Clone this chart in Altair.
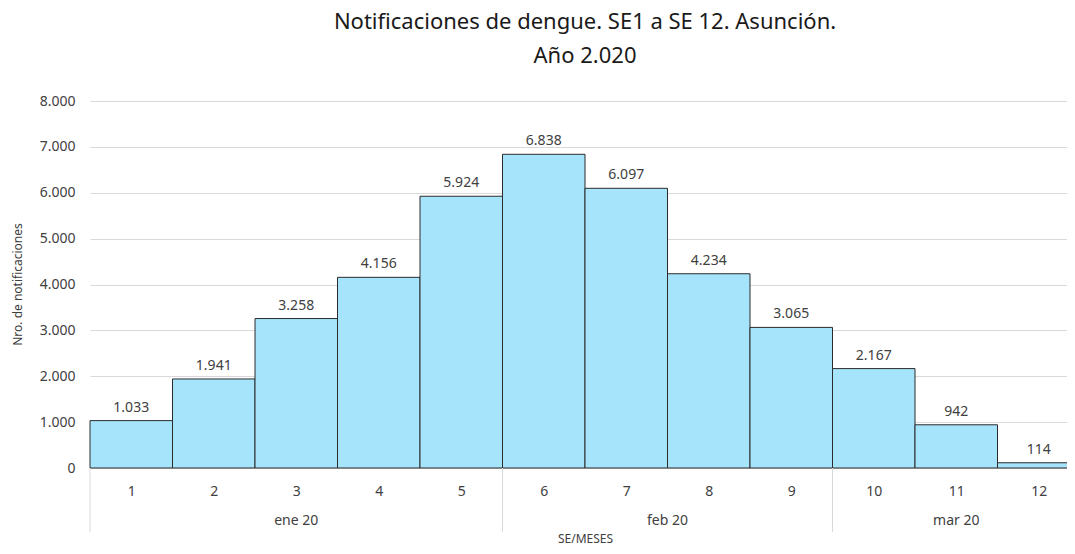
import altair as alt
import pandas as pd

weeks = [1, 2, 3, 4, 5, 6, 7, 8, 9, 10, 11, 12]
counts = [1033, 1941, 3258, 4156, 5924, 6838, 6097, 4234, 3065, 2167, 942, 114]
months = ["ene 20", "feb 20", "mar 20"]
month_first_week = [1, 6, 10]
month_last_week = [5, 9, 12]
y_ticks = [0, 1000, 2000, 3000, 4000, 5000, 6000, 7000, 8000]

FONT = "Noto Sans"

bars_df = pd.DataFrame({
    "week": weeks,
    "lo": [w - 0.5 for w in weeks],
    "hi": [w + 0.5 for w in weeks],
    "count": counts,
    "label": [f"{c:,}".replace(",", ".") for c in counts],
})

months_df = pd.DataFrame({
    "month": months,
    "mid": [(a + b) / 2 for a, b in zip(month_first_week, month_last_week)],
})

bounds = [a - 0.5 for a in month_first_week] + [month_last_week[-1] + 0.5]
bounds_df = pd.DataFrame({"b": bounds})

xscale = alt.Scale(domain=[0.5, 12.5], nice=False, zero=False, padding=0)
yscale = alt.Scale(domain=[0, 8000], nice=False, padding=0)

base = alt.Chart(bars_df)

bars = base.mark_bar(color="#A6E4FB", stroke="#2b2b2b", strokeWidth=1).encode(
    x=alt.X("lo:Q", scale=xscale,
            axis=alt.Axis(values=weeks, format="d", ticks=False, tickSize=0, domain=False,
                          grid=False, labelPadding=16, labelFontSize=14, labelColor="#404040",
                          labelFont=FONT, title="SE/MESES", titleFont=FONT, titleFontSize=12,
                          titleFontWeight="normal", titleColor="#404040",
                          titleY=74, titleBaseline="alphabetic")),
    x2="hi:Q",
    y=alt.Y("count:Q", scale=yscale,
            axis=alt.Axis(values=y_ticks, ticks=False, tickSize=0, domain=False,
                          labelExpr="replace(format(datum.value, ','), ',', '.')",
                          labelPadding=15, labelFontSize=14, labelColor="#404040", labelFont=FONT,
                          gridColor="#d9d9d9", gridWidth=1,
                          title="Nro. de notificaciones", titleFont=FONT, titleFontSize=12,
                          titleFontWeight="normal", titleColor="#404040",
                          titleX=-73, titleY=183, titleAngle=270, titleBaseline="middle")),
    y2=alt.datum(0),
)

labels = base.mark_text(font=FONT, fontSize=14, color="#404040", baseline="alphabetic", dy=-9).encode(
    x=alt.X("week:Q", scale=xscale),
    y=alt.Y("count:Q", scale=yscale),
    text="label:N",
)

month_text = alt.Chart(months_df).mark_text(font=FONT, fontSize=14, color="#404040",
                                             baseline="middle").encode(
    x=alt.X("mid:Q", scale=xscale),
    y=alt.value(420),
    text="month:N",
)

seps = alt.Chart(bounds_df).mark_rule(color="#d9d9d9", strokeWidth=1).encode(
    x=alt.X("b:Q", scale=xscale),
    y=alt.value(367),
    y2=alt.value(431),
)

chart = alt.layer(bars, labels, month_text, seps).properties(
    width=990,
    height=367,
    title=alt.TitleParams(
        text=["Notificaciones de dengue. SE1 a SE 12. Asunción.", "Año 2.020"],
        font=FONT, fontSize=22, fontWeight="normal", color="#1a1a1a",
        anchor="middle", lineHeight=34, offset=26,
    ),
    autosize=alt.AutoSizeParams(type="none"),
    padding={"left": 82, "top": 93, "right": -13, "bottom": 78},
).configure_view(stroke=None)

chart.save("out.html", embed_options={"renderer": "svg", "actions": False})
